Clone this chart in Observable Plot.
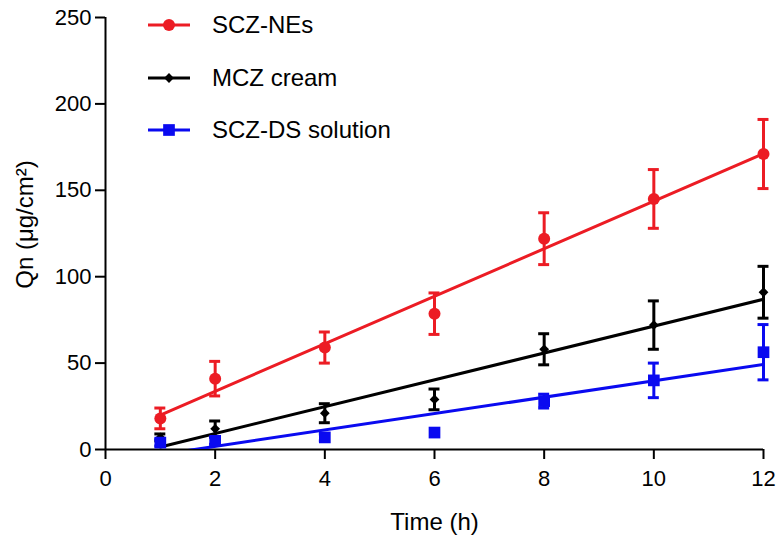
<!DOCTYPE html>
<html>
<head>
<meta charset="utf-8">
<script src="https://cdn.jsdelivr.net/npm/d3@7"></script>
<script src="https://cdn.jsdelivr.net/npm/@observablehq/plot@0.6"></script>
<style>
  html, body { margin: 0; padding: 0; background: #fff; }
  #wrap { position: relative; width: 776px; height: 540px; font-family: Arial, "Liberation Sans", sans-serif; }
  #legend { position: absolute; left: 146px; top: 10px; }
  .row { position: absolute; left: 0; height: 30px; display: flex; align-items: center; white-space: nowrap; font-size: 24px; color: #000; }
  .row svg { margin-right: 20px; }
</style>
</head>
<body>
<div id="wrap"></div>
<script>
// ---- data ----
const times = [1, 2, 4, 6, 8, 10, 12];
const seriesNames = ["SCZ-NEs", "MCZ cream", "SCZ-DS solution"];
const nesMean   = [18, 41, 59, 78.6, 122, 145, 171];
const nesSD     = [6, 10, 9, 12, 15, 17, 20];
const creamMean = [7, 12, 21, 29, 58, 72, 91];
const creamSD   = [2, 4.5, 5.5, 6, 9, 14, 15];
const dsMean    = [4, 5, 7, 9.8, 28, 40, 56.3];
const dsSD      = [2, 2, 2, 0, 4, 10, 16];
const xTicks = [0, 2, 4, 6, 8, 10, 12];
const yTicks = [0, 50, 100, 150, 200, 250];
const colors = ["#ec1c24", "#000000", "#0a0af0"];
const symbols = ["circle", "diamond2", "square"];
const radii = [6, 4.4, 6.6];

const series = [
  {name: seriesNames[0], mean: nesMean, sd: nesSD},
  {name: seriesNames[1], mean: creamMean, sd: creamSD},
  {name: seriesNames[2], mean: dsMean, sd: dsSD}
];
const rows = series.flatMap((s) => times.map((t, i) => ({
  series: s.name, t, mean: s.mean[i], sd: s.sd[i],
  lo: s.mean[i] - s.sd[i], hi: s.mean[i] + s.sd[i]
})));

const marks = [];
series.forEach((s, k) => {
  const d = rows.filter((r) => r.series === s.name);
  const e = d.filter((r) => r.sd > 0);
  marks.push(
    Plot.linearRegressionY(d, {x: "t", y: "mean", stroke: colors[k], strokeWidth: 3, ci: 0, clip: true}),
    Plot.ruleX(e, {x: "t", y1: "lo", y2: "hi", stroke: colors[k], strokeWidth: 3}),
    Plot.ruleY(e, {y: "lo", x1: (r) => r.t - 0.1, x2: (r) => r.t + 0.1, stroke: colors[k], strokeWidth: 3}),
    Plot.ruleY(e, {y: "hi", x1: (r) => r.t - 0.1, x2: (r) => r.t + 0.1, stroke: colors[k], strokeWidth: 3}),
    Plot.dot(d, {x: "t", y: "mean", symbol: symbols[k], r: radii[k], fill: colors[k], stroke: "none"})
  );
});

const chart = Plot.plot({
  width: 776,
  height: 540,
  marginLeft: 105,
  marginRight: 13,
  marginTop: 17,
  marginBottom: 91,
  style: {fontFamily: "Arial, 'Liberation Sans', sans-serif", color: "#000", background: "#fff", overflow: "visible"},
  x: {domain: [0, 12]},
  y: {domain: [0, 250]},
  marks: [
    Plot.axisY({ticks: yTicks, tickSize: 10, tickPadding: 4, fontSize: 22, strokeWidth: 2, label: null}),
    Plot.axisX({ticks: xTicks, tickSize: 10, tickPadding: 11, fontSize: 22, strokeWidth: 2, label: null}),
    Plot.ruleX([0], {strokeWidth: 2}),
    Plot.ruleY([0], {strokeWidth: 2}),
    Plot.text(["Time (h)"], {frameAnchor: "bottom", lineAnchor: "middle", dy: 73, fontSize: 24}),
    Plot.text(["Qn (μg/cm²)"], {frameAnchor: "left", textAnchor: "middle", lineAnchor: "middle", rotate: -90, dx: -80, dy: -9, fontSize: 24}),
    ...marks
  ]
});

const wrap = document.getElementById("wrap");
wrap.appendChild(chart);

// legend overlay
const legend = document.createElement("div");
legend.id = "legend";
const rowTops = [0, 53, 105];
series.forEach((s, k) => {
  const row = document.createElement("div");
  row.className = "row";
  row.style.top = rowTops[k] + "px";
  const ns = "http://www.w3.org/2000/svg";
  const svg = document.createElementNS(ns, "svg");
  svg.setAttribute("width", 46); svg.setAttribute("height", 30);
  const line = document.createElementNS(ns, "line");
  line.setAttribute("x1", 2); line.setAttribute("x2", 44);
  line.setAttribute("y1", 15); line.setAttribute("y2", 15);
  line.setAttribute("stroke", colors[k]); line.setAttribute("stroke-width", 3);
  svg.appendChild(line);
  const path = document.createElementNS(ns, "path");
  const sym = [d3.symbolCircle, d3.symbolDiamond2, d3.symbolSquare][k];
  path.setAttribute("d", d3.symbol(sym, Math.PI * radii[k] * radii[k])());
  path.setAttribute("transform", "translate(23,15)");
  path.setAttribute("fill", colors[k]);
  svg.appendChild(path);
  row.appendChild(svg);
  const span = document.createElement("span");
  span.textContent = s.name;
  row.appendChild(span);
  legend.appendChild(row);
});
wrap.appendChild(legend);
</script>
</body>
</html>
